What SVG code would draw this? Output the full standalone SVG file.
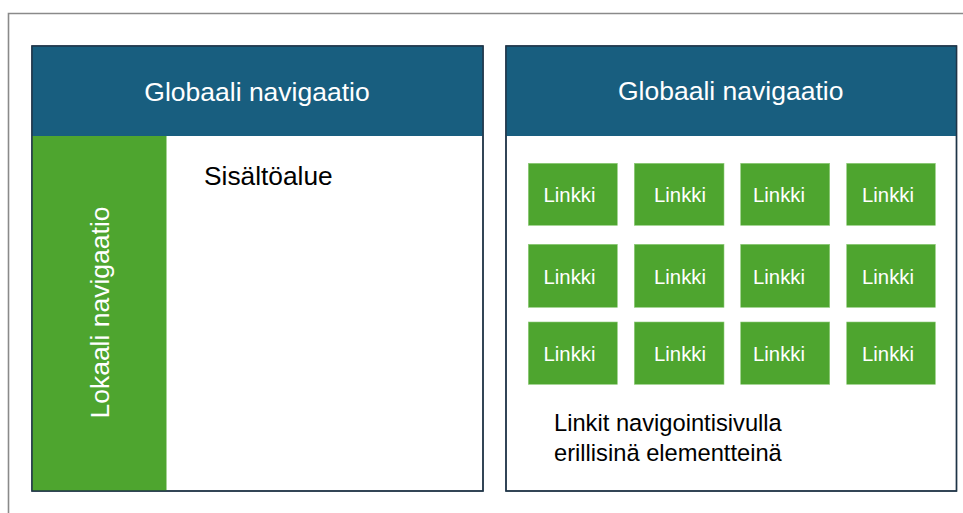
<svg xmlns="http://www.w3.org/2000/svg" width="963" height="513" viewBox="0 0 963 513">
<style>
text{font-family:"Liberation Sans",Arial,sans-serif}
.hdr{fill:#185E7F}
.grn{fill:#4EA52F}
.panel{fill:#fff;stroke:#1E3447;stroke-width:1.4}
.wt{fill:#fff}
.bk{fill:#000}
.h{font-size:26.5px;text-anchor:middle}
.lk{font-size:20.3px;text-anchor:middle}
.link rect{fill:#4EA52F;stroke:#8FCB7A;stroke-width:0.6}
</style>
<rect width="963" height="513" fill="#fff"/>
<path d="M8.5 513V13.5H963" fill="none" stroke="#8a8a8a" stroke-width="1.6"/>
<g id="left-panel">
<rect class="panel" x="32" y="46" width="451" height="445"/>
<rect class="hdr" x="32" y="46" width="451" height="90"/>
<text class="wt h" x="257" y="100.5">Globaali navigaatio</text>
<rect class="grn" x="32" y="136" width="134.5" height="355"/>
<text class="wt h" transform="translate(108.5 312.5) rotate(-90)" x="0" y="0">Lokaali navigaatio</text>
<text class="bk" x="204" y="185" font-size="26.3">Sisältöalue</text>
<rect x="32" y="46" width="451" height="445" fill="none" stroke="#1E3447" stroke-width="1.4"/>
</g>
<g id="right-panel">
<rect class="panel" x="506" y="46" width="450.5" height="445"/>
<rect class="hdr" x="506" y="46" width="450.5" height="90"/>
<text class="wt h" x="730.7" y="100">Globaali navigaatio</text>
<text class="bk" x="554" y="430.7" font-size="23.7">Linkit navigointisivulla</text>
<text class="bk" x="554" y="460.7" font-size="23.7">erillisinä elementteinä</text>
<rect x="506" y="46" width="450.5" height="445" fill="none" stroke="#1E3447" stroke-width="1.4"/>
</g>
<g id="links">
<g class="link" id="link-1-1"><rect x="528.3" y="163.3" width="89" height="62"/><text class="wt lk" x="569.5" y="201.7">Linkki</text></g>
<g class="link" id="link-1-2"><rect x="634.3" y="163.3" width="89.7" height="62"/><text class="wt lk" x="680" y="201.7">Linkki</text></g>
<g class="link" id="link-1-3"><rect x="740.7" y="163.3" width="89" height="62"/><text class="wt lk" x="779" y="201.7">Linkki</text></g>
<g class="link" id="link-1-4"><rect x="846.7" y="163.3" width="88.6" height="62"/><text class="wt lk" x="888" y="201.7">Linkki</text></g>
<g class="link" id="link-2-1"><rect x="528.3" y="244.3" width="89" height="63"/><text class="wt lk" x="569.5" y="284">Linkki</text></g>
<g class="link" id="link-2-2"><rect x="634.3" y="244.3" width="89.7" height="63"/><text class="wt lk" x="680" y="284">Linkki</text></g>
<g class="link" id="link-2-3"><rect x="740.7" y="244.3" width="89" height="63"/><text class="wt lk" x="779" y="284">Linkki</text></g>
<g class="link" id="link-2-4"><rect x="846.7" y="244.3" width="88.6" height="63"/><text class="wt lk" x="888" y="284">Linkki</text></g>
<g class="link" id="link-3-1"><rect x="528.3" y="322" width="89" height="62.3"/><text class="wt lk" x="569.5" y="360.7">Linkki</text></g>
<g class="link" id="link-3-2"><rect x="634.3" y="322" width="89.7" height="62.3"/><text class="wt lk" x="680" y="360.7">Linkki</text></g>
<g class="link" id="link-3-3"><rect x="740.7" y="322" width="89" height="62.3"/><text class="wt lk" x="779" y="360.7">Linkki</text></g>
<g class="link" id="link-3-4"><rect x="846.7" y="322" width="88.6" height="62.3"/><text class="wt lk" x="888" y="360.7">Linkki</text></g>
</g>
<g id="connectors"/>
</svg>
